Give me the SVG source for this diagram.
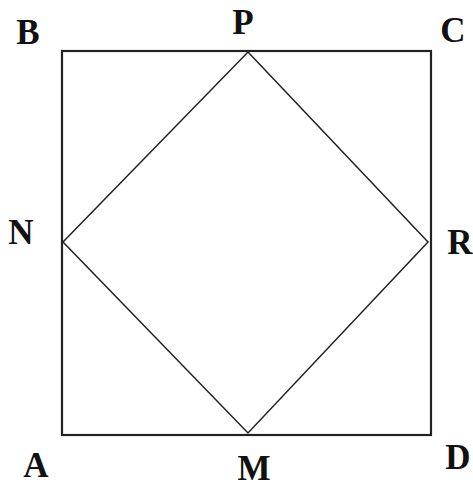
<svg xmlns="http://www.w3.org/2000/svg" width="473" height="489" viewBox="0 0 473 489">
<style>
.lbl{font-family:"Liberation Serif","Times New Roman",serif;font-weight:bold;font-size:35px;fill:#111;text-anchor:middle}
.sq{fill:none;stroke:#222;stroke-width:2.2}
.dm{fill:none;stroke:#222;stroke-width:1.5}
</style>
<rect width="473" height="489" fill="#fff"/>
<g id="connectors">
<rect class="sq" x="62" y="51" width="369" height="384"/>
<polygon class="dm" points="248,52 428,242 248,433 63,242"/>
</g>
<g id="B"><text class="lbl" x="28" y="44">B</text></g>
<g id="P"><text class="lbl" x="243" y="34">P</text></g>
<g id="C"><text class="lbl" x="453" y="42">C</text></g>
<g id="N"><text class="lbl" x="21" y="244">N</text></g>
<g id="R"><text class="lbl" x="460" y="254">R</text></g>
<g id="A"><text class="lbl" x="36" y="477">A</text></g>
<g id="M"><text class="lbl" x="254" y="480">M</text></g>
<g id="D"><text class="lbl" x="458" y="469">D</text></g>
</svg>
